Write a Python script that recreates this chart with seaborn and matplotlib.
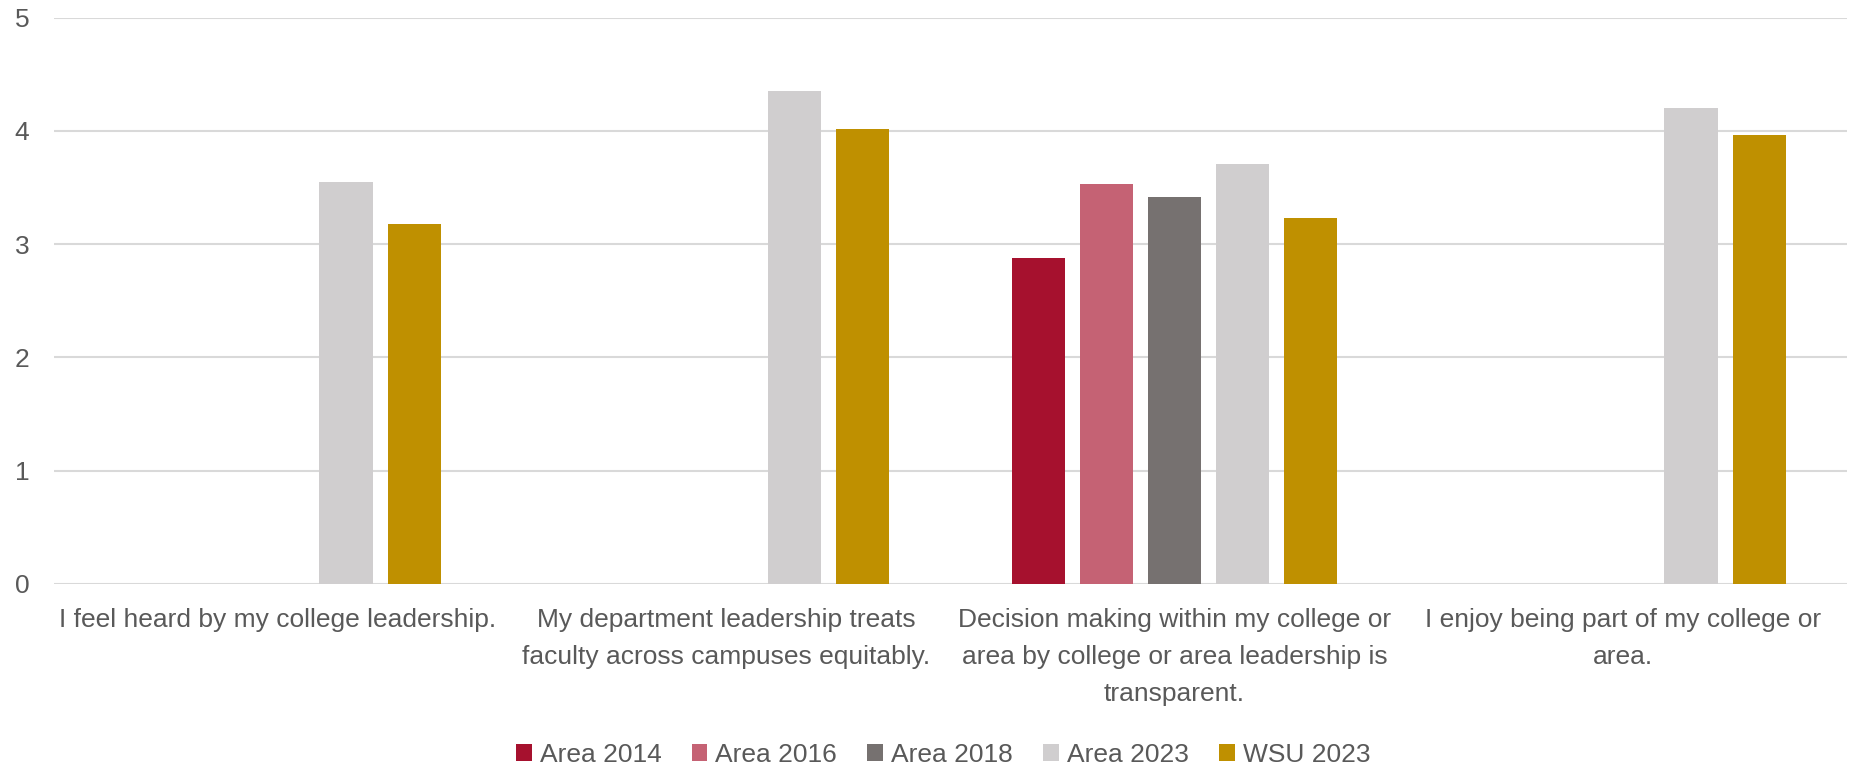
import numpy as np
import pandas as pd
import matplotlib
matplotlib.use("Agg")
import matplotlib.pyplot as plt
import seaborn as sns

# ========== DATA ==========
questions = [
    "I feel heard by my college leadership.",
    "My department leadership treats\nfaculty across campuses equitably.",
    "Decision making within my college or\narea by college or area leadership is\ntransparent.",
    "I enjoy being part of my college or\narea.",
]
series = ["Area 2014", "Area 2016", "Area 2018", "Area 2023", "WSU 2023"]

area_2014 = [np.nan, np.nan, 2.88, np.nan]
area_2016 = [np.nan, np.nan, 3.53, np.nan]
area_2018 = [np.nan, np.nan, 3.42, np.nan]
area_2023 = [3.55, 4.35, 3.71, 4.20]
wsu_2023 = [3.18, 4.02, 3.23, 3.96]

colors = ["#A6112E", "#C56274", "#767170", "#D0CECF", "#BF9000"]

# long format for seaborn
rows = []
for name, vals in zip(series, [area_2014, area_2016, area_2018, area_2023, wsu_2023]):
    for q, v in zip(questions, vals):
        rows.append({"question": q, "series": name, "score": v})
df = pd.DataFrame(rows).dropna(subset=["score"])

# ========== PLOT ==========
sns.set_style("white")
plt.rcParams["font.family"] = ["Liberation Sans", "DejaVu Sans"]
text_col = "#595959"

fig = plt.figure(figsize=(18.53, 7.67), dpi=100)
ax = fig.add_axes([0.029, 0.2386, 0.9678, 0.7384])

sns.barplot(data=df, x="question", y="score", hue="series",
            order=questions, hue_order=series, palette=colors,
            width=0.76, gap=0.22, errorbar=None, saturation=1,
            linewidth=0, ax=ax)

ax.set_ylim(0, 5)
ax.set_xlim(-0.5, len(questions) - 0.5)
ax.set_yticks(range(6))
ax.yaxis.grid(True, color="#D9D9D9", linewidth=1.5)
ax.set_axisbelow(True)
for s in ax.spines.values():
    s.set_visible(False)
ax.set_xlabel("")
ax.set_ylabel("")
ax.tick_params(axis="both", length=0, labelsize=19, labelcolor=text_col)
ax.tick_params(axis="x", pad=17)
ax.tick_params(axis="y", pad=28)
for lbl in ax.get_xticklabels():
    lbl.set_linespacing(1.7)
    lbl.set_verticalalignment("top")
for lbl in ax.get_yticklabels():
    lbl.set_horizontalalignment("left")

handles, labels = ax.get_legend_handles_labels()
ax.get_legend().remove()
fig.legend(handles, labels, loc="center", bbox_to_anchor=(0.509, 0.016),
           ncol=5, frameon=False, fontsize=19, labelcolor=text_col,
           handlelength=0.6, handleheight=0.6, handletextpad=0.3,
           columnspacing=1.15)

fig.savefig("out.png", dpi=100)
